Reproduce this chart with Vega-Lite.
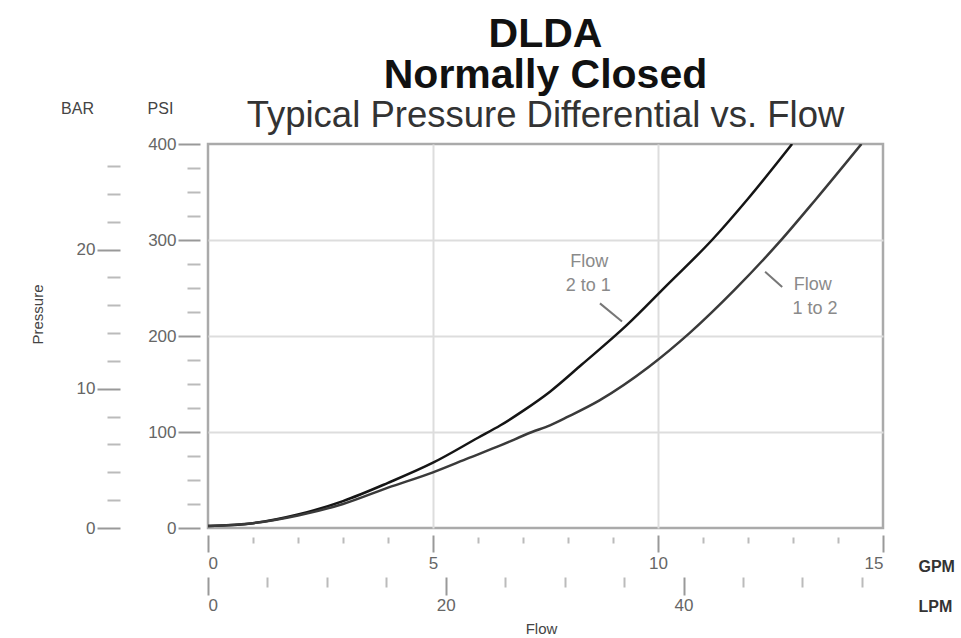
{
  "$schema": "https://vega.github.io/schema/vega-lite/v6.json",
  "width": 675,
  "height": 384,
  "autosize": {"type": "none"},
  "padding": {"left": 208, "top": 144, "right": 78, "bottom": 110},
  "background": "white",
  "title": {
    "text": ["DLDA", "Normally Closed"],
    "subtitle": "Typical Pressure Differential vs. Flow",
    "anchor": "middle",
    "frame": "group",
    "font": "Liberation Sans",
    "fontSize": 41,
    "fontWeight": "bold",
    "lineHeight": 41,
    "color": "#111111",
    "subtitleFont": "Liberation Sans",
    "subtitleFontSize": 36.5,
    "subtitleColor": "#333333",
    "subtitlePadding": 1,
    "offset": -35
  },
  "config": {
    "view": {"stroke": "#aaaaaa", "strokeWidth": 2.5},
    "axis": {
      "labelFont": "Liberation Sans",
      "titleFont": "Liberation Sans",
      "labelColor": "#666666",
      "titleColor": "#444444",
      "titleFontWeight": "normal",
      "tickColor": "#999999",
      "tickWidth": 2,
      "domain": false,
      "grid": false,
      "labelFontSize": 17,
      "titleFontSize": 16
    }
  },
  "resolve": {"scale": {"x": "independent", "y": "independent"}},
  "layer": [
    {
      "data": {
        "values": [
          {"gpm": 0, "psi": 2, "dir": "2 to 1"},
          {"gpm": 1, "psi": 5, "dir": "2 to 1"},
          {"gpm": 2, "psi": 14, "dir": "2 to 1"},
          {"gpm": 3, "psi": 28, "dir": "2 to 1"},
          {"gpm": 4, "psi": 47, "dir": "2 to 1"},
          {"gpm": 5, "psi": 68, "dir": "2 to 1"},
          {"gpm": 6, "psi": 94, "dir": "2 to 1"},
          {"gpm": 6.5, "psi": 107, "dir": "2 to 1"},
          {"gpm": 7, "psi": 122, "dir": "2 to 1"},
          {"gpm": 7.6, "psi": 142, "dir": "2 to 1"},
          {"gpm": 8.3, "psi": 170, "dir": "2 to 1"},
          {"gpm": 9.3, "psi": 211, "dir": "2 to 1"},
          {"gpm": 10.2, "psi": 253, "dir": "2 to 1"},
          {"gpm": 11.2, "psi": 300, "dir": "2 to 1"},
          {"gpm": 12, "psi": 343, "dir": "2 to 1"},
          {"gpm": 12.98, "psi": 400, "dir": "2 to 1"},
          {"gpm": 0, "psi": 2, "dir": "1 to 2"},
          {"gpm": 1, "psi": 5, "dir": "1 to 2"},
          {"gpm": 2, "psi": 13, "dir": "1 to 2"},
          {"gpm": 3, "psi": 25, "dir": "1 to 2"},
          {"gpm": 4, "psi": 42, "dir": "1 to 2"},
          {"gpm": 5, "psi": 58, "dir": "1 to 2"},
          {"gpm": 5.8, "psi": 73, "dir": "1 to 2"},
          {"gpm": 6.5, "psi": 86, "dir": "1 to 2"},
          {"gpm": 7.2, "psi": 100, "dir": "1 to 2"},
          {"gpm": 7.6, "psi": 107, "dir": "1 to 2"},
          {"gpm": 8, "psi": 116, "dir": "1 to 2"},
          {"gpm": 8.7, "psi": 133, "dir": "1 to 2"},
          {"gpm": 9.8, "psi": 168, "dir": "1 to 2"},
          {"gpm": 10.7, "psi": 203, "dir": "1 to 2"},
          {"gpm": 11.7, "psi": 248, "dir": "1 to 2"},
          {"gpm": 12.7, "psi": 298, "dir": "1 to 2"},
          {"gpm": 13.5, "psi": 342, "dir": "1 to 2"},
          {"gpm": 14.52, "psi": 400, "dir": "1 to 2"}
        ]
      },
      "mark": {"type": "line", "interpolate": "monotone", "strokeWidth": 2.5, "clip": true},
      "encoding": {
        "x": {
          "field": "gpm", "type": "quantitative",
          "scale": {"domain": [0, 15], "nice": false},
          "axis": {
            "orient": "bottom", "values": [0, 5, 10, 15], "tickSize": 17, "offset": 7, "labelPadding": 3,
            "title": "GPM", "titleAngle": 0, "titleX": 710, "titleY": 31, "titleAlign": "left",
            "titleBaseline": "middle", "titleFontWeight": "bold", "titleColor": "#333333"
          }
        },
        "y": {
          "field": "psi", "type": "quantitative",
          "scale": {"domain": [0, 400], "nice": false},
          "axis": {
            "orient": "left", "values": [0, 100, 200, 300, 400], "tickSize": 22, "offset": 8, "labelPadding": 2,
            "title": "PSI", "titleAngle": 0, "titleX": -40, "titleY": -36, "titleAlign": "center",
            "titleBaseline": "middle"
          }
        },
        "color": {
          "field": "dir", "type": "nominal",
          "scale": {"domain": ["2 to 1", "1 to 2"], "range": ["#151515", "#3a3a3a"]},
          "legend": null
        }
      }
    },
    {
      "data": {
        "values": [
          {"gpm": 8.47, "psi": 277, "label": "Flow"},
          {"gpm": 8.45, "psi": 252, "label": "2 to 1"},
          {"gpm": 13.44, "psi": 253, "label": "Flow"},
          {"gpm": 13.49, "psi": 228, "label": "1 to 2"}
        ]
      },
      "mark": {"type": "text", "font": "Liberation Sans", "fontSize": 18, "color": "#8a8a8a", "align": "center", "baseline": "middle"},
      "encoding": {
        "x": {
          "field": "gpm", "type": "quantitative",
          "scale": {"domain": [0, 15], "nice": false},
          "axis": {"orient": "bottom", "values": [5, 10], "grid": true, "gridColor": "#dddddd", "gridWidth": 2, "ticks": false, "labels": false, "title": null}
        },
        "y": {
          "field": "psi", "type": "quantitative",
          "scale": {"domain": [0, 400], "nice": false},
          "axis": {"orient": "left", "values": [100, 200, 300], "grid": true, "gridColor": "#dddddd", "gridWidth": 2, "ticks": false, "labels": false, "title": null}
        },
        "text": {"field": "label", "type": "nominal"}
      }
    },
    {
      "data": {
        "values": [
          {"gpm": 8.71, "psi": 234, "gpm2": 9.2, "psi2": 215},
          {"gpm": 12.38, "psi": 267, "gpm2": 12.76, "psi2": 251}
        ]
      },
      "mark": {"type": "rule", "color": "#777777", "strokeWidth": 2},
      "encoding": {
        "x": {"field": "gpm", "type": "quantitative", "scale": {"domain": [0, 15], "nice": false}, "axis": null},
        "x2": {"field": "gpm2"},
        "y": {"field": "psi", "type": "quantitative", "scale": {"domain": [0, 400], "nice": false}, "axis": null},
        "y2": {"field": "psi2"}
      }
    },
    {
      "data": {"values": [{"psi": 0}, {"psi": 400}]},
      "mark": {"type": "point", "opacity": 0},
      "encoding": {
        "y": {
          "field": "psi", "type": "quantitative",
          "scale": {"domain": [0, 400], "nice": false},
          "axis": {"orient": "left", "values": [25, 50, 75, 125, 150, 175, 225, 250, 275, 325, 350, 375], "tickSize": 13, "offset": 8, "labels": false, "title": null, "tickColor": "#bbbbbb"}
        }
      }
    },
    {
      "data": {"values": [{"bar": 0}, {"bar": 27.58}]},
      "mark": {"type": "point", "opacity": 0},
      "encoding": {
        "y": {
          "field": "bar", "type": "quantitative",
          "scale": {"domain": [0, 27.58], "nice": false},
          "axis": {
            "orient": "left", "values": [0, 10, 20], "tickSize": 23, "offset": 88, "labelPadding": 2,
            "title": "Pressure", "titleAngle": -90, "titleX": -83, "titleY": 170, "titleAlign": "center",
            "titleBaseline": "middle", "titleFontSize": 15
          }
        }
      }
    },
    {
      "data": {"values": [{"bar": 0}, {"bar": 27.58}]},
      "mark": {"type": "point", "opacity": 0},
      "encoding": {
        "y": {
          "field": "bar", "type": "quantitative",
          "scale": {"domain": [0, 27.58], "nice": false},
          "axis": {
            "orient": "left", "values": [2, 4, 6, 8, 12, 14, 16, 18, 22, 24, 26], "tickSize": 13, "offset": 88,
            "labels": false, "tickColor": "#bbbbbb",
            "title": "BAR", "titleAngle": 0, "titleX": -43, "titleY": -36, "titleAlign": "center", "titleBaseline": "middle"
          }
        }
      }
    },
    {
      "data": {"values": [{"gpm": 0}, {"gpm": 15}]},
      "mark": {"type": "point", "opacity": 0},
      "encoding": {
        "x": {
          "field": "gpm", "type": "quantitative",
          "scale": {"domain": [0, 15], "nice": false},
          "axis": {"orient": "bottom", "values": [1, 2, 3, 4, 6, 7, 8, 9, 11, 12, 13, 14], "tickSize": 6, "offset": 9, "labels": false, "title": null, "tickColor": "#bbbbbb"}
        }
      }
    },
    {
      "data": {"values": [{"lpm": 0}, {"lpm": 56.78}]},
      "mark": {"type": "point", "opacity": 0},
      "encoding": {
        "x": {
          "field": "lpm", "type": "quantitative",
          "scale": {"domain": [0, 56.78], "nice": false},
          "axis": {
            "orient": "bottom", "values": [0, 20, 40], "tickSize": 18, "offset": 49, "labelPadding": 2,
            "title": "LPM", "titleAngle": 0, "titleX": 710, "titleY": 29, "titleAlign": "left",
            "titleBaseline": "middle", "titleFontWeight": "bold", "titleColor": "#333333"
          }
        }
      }
    },
    {
      "data": {"values": [{"lpm": 0}, {"lpm": 56.78}]},
      "mark": {"type": "point", "opacity": 0},
      "encoding": {
        "x": {
          "field": "lpm", "type": "quantitative",
          "scale": {"domain": [0, 56.78], "nice": false},
          "axis": {
            "orient": "bottom", "values": [5, 10, 15, 25, 30, 35, 45, 50, 55], "tickSize": 10, "offset": 49,
            "labels": false, "tickColor": "#bbbbbb",
            "title": "Flow", "titleAngle": 0, "titleX": 333, "titleY": 51, "titleAlign": "center", "titleBaseline": "middle",
            "titleFontSize": 15
          }
        }
      }
    }
  ]
}
